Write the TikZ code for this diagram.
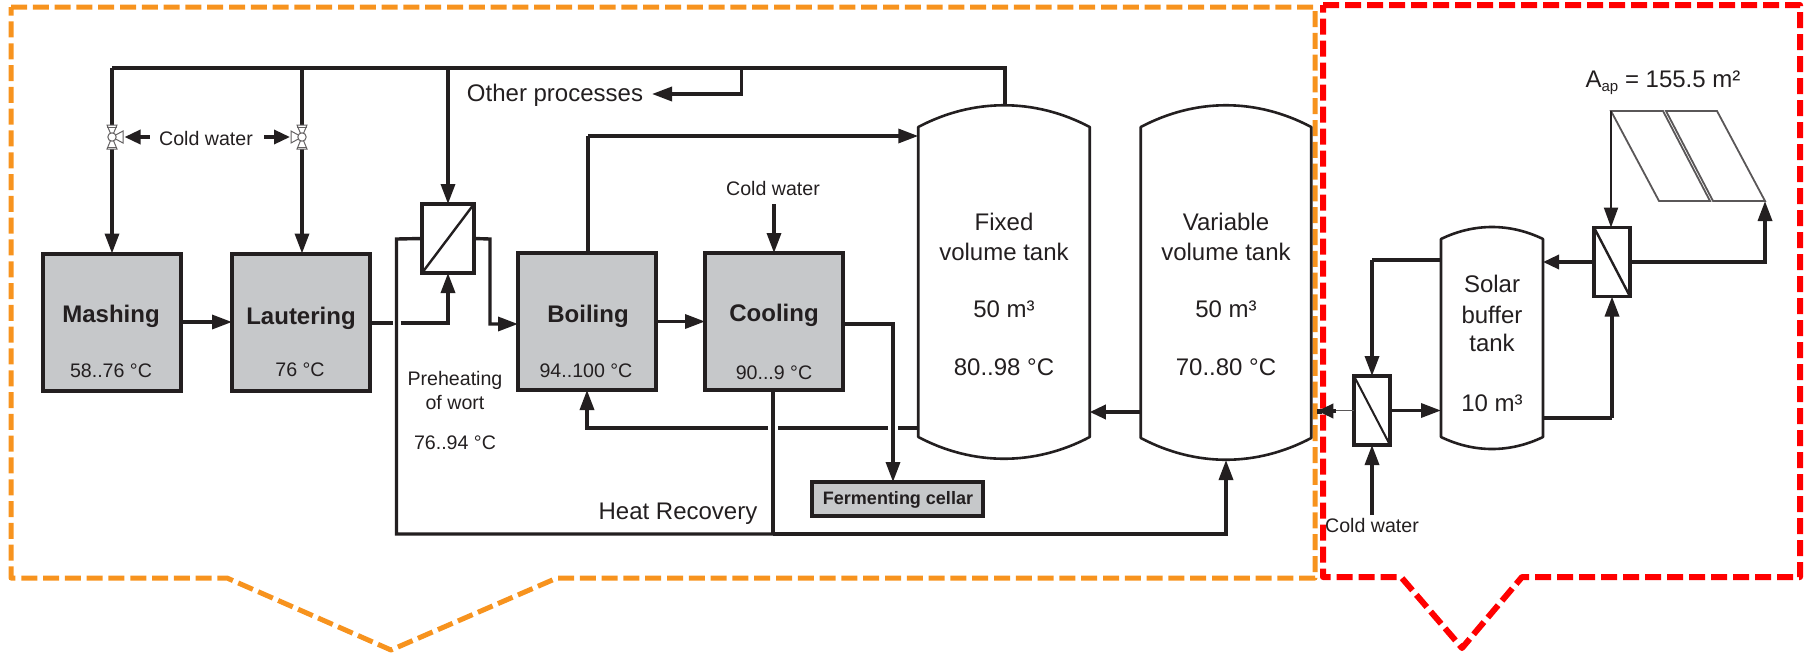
\documentclass[tikz,border=0pt]{standalone}
\usepackage{fontspec}
\setmainfont{Liberation Sans}
\usetikzlibrary{arrows.meta,calc}
\definecolor{ink}{HTML}{231F20}
\definecolor{boxgrey}{HTML}{C6C8CA}
\definecolor{frameorange}{HTML}{F7931E}
\definecolor{framered}{HTML}{FF0000}
\tikzset{
  x=1pt,y=-1pt,
  every node/.style={inner sep=0pt,outer sep=0pt,text=ink},
  txt/.style={font=\fontsize{24}{24}\selectfont},
  small/.style={font=\fontsize{19.6}{20}\selectfont},
  smallb/.style={font=\fontsize{18}{18}\bfseries\selectfont},
  titleb/.style={font=\fontsize{24}{24}\bfseries\selectfont},
  procbox/.style={draw=ink,fill=boxgrey,line width=4pt,minimum width=138pt,minimum height=137pt},
  hxbox/.style={draw=ink,fill=white,line width=3.6pt},
  pipe/.style={draw=ink,line width=3.4pt,line cap=butt,line join=miter},
  tip/.style={-{Triangle[length=20pt,width=14pt]}},
  tiplow/.style={-{Triangle[length=16pt,width=14pt]}},
  tankline/.style={draw=ink,line width=2.6pt,line join=round,fill=white},
  thin line/.style={draw=ink!75,line width=1.8pt},
  valve/.style={draw=ink!70,line width=1pt,fill=white},
  frameO/.style={draw=frameorange,line width=5pt,dash pattern=on 16pt off 5.8pt,line join=round},
  frameR/.style={draw=framered,line width=6pt,dash pattern=on 16pt off 6pt,line join=round},
}
\begin{document}
\begin{tikzpicture}
\useasboundingbox (0,0) rectangle (1804,654);
% dashed frames
\draw[frameO] (11,7) -- (1315,7) -- (1315,578) -- (557,578) -- (391,650) -- (227,578) -- (11,578) -- cycle;
\draw[frameR] (1323,5) -- (1800,5) -- (1800,577) -- (1522,577) -- (1462,648) -- (1401,577) -- (1323,577) -- cycle;

% process boxes
\node[procbox] (mash) at (112,322) {};
\node[procbox] (laut) at (301,322) {};
\node[procbox] (boil) at (587,321.5) {};
\node[procbox] (cool) at (774,321.5) {};
\node[draw=ink,fill=boxgrey,line width=4pt,minimum width=171pt,minimum height=34pt] (ferm) at (897.5,499) {};
% heat exchangers
\node[hxbox,minimum width=52pt,minimum height=69pt] (hxa) at (448,238.5) {};
\node[hxbox,minimum width=36pt,minimum height=69pt] (hxb) at (1612,262) {};
\node[hxbox,minimum width=36pt,minimum height=69pt] (hxc) at (1372,410.5) {};
\draw[ink,line width=2.4pt] (hxa.south west) -- (hxa.north east);
\draw[ink,line width=2.4pt] (hxb.north west) -- (hxb.south east);
\draw[ink,line width=2pt] (hxc.north west) -- (hxc.south east);
% tanks
\node[minimum width=171.5pt,minimum height=310pt] (fixed) at (1004,282) {};
\node[minimum width=170.5pt,minimum height=311pt] (var) at (1226,282.5) {};
\node[minimum width=102pt,minimum height=198pt] (solar) at (1492,338) {};
\draw[tankline] (fixed.south west) -- (fixed.north west)
  .. controls ([xshift=55pt,yshift=29pt]fixed.north west) and ([xshift=-55pt,yshift=29pt]fixed.north east) .. (fixed.north east)
  -- (fixed.south east)
  .. controls ([xshift=-55pt,yshift=-29pt]fixed.south east) and ([xshift=55pt,yshift=-29pt]fixed.south west) .. cycle;
\draw[tankline] (var.south west) -- (var.north west)
  .. controls ([xshift=55pt,yshift=29pt]var.north west) and ([xshift=-55pt,yshift=29pt]var.north east) .. (var.north east)
  -- (var.south east)
  .. controls ([xshift=-55pt,yshift=-29pt]var.south east) and ([xshift=55pt,yshift=-29pt]var.south west) .. cycle;
\draw[tankline] (solar.south west) -- (solar.north west)
  .. controls ([xshift=33pt,yshift=16pt]solar.north west) and ([xshift=-33pt,yshift=16pt]solar.north east) .. (solar.north east)
  -- (solar.south east)
  .. controls ([xshift=-33pt,yshift=-16pt]solar.south east) and ([xshift=33pt,yshift=-16pt]solar.south west) .. cycle;
% collector
\coordinate (cola) at (1611,111);
\coordinate (colb) at (1765,201);
\draw[thin line] (cola) -- (1663,111) -- (1710,201) -- (1659,201) -- cycle;
\draw[thin line] (1666,111) -- (1717,111) -- (colb) -- (1713,201) -- cycle;

% junction and bend coordinates
\coordinate (valveL) at (112,137);
\coordinate (valveR) at (302,137);
\coordinate (topL) at (112,68);
\coordinate (topM) at (302,68);
\coordinate (topH) at (448,68);
\coordinate (topO) at (741.5,68);
\coordinate (topT) at (1005,68);
\coordinate (fixedCrown) at (1005,105);
\coordinate (varCrown) at (1226,460);
\coordinate (retY) at (396.5,534);
\coordinate (coolY) at (773,534);

% text targets
\node[txt,anchor=center] (other) at (555,95) {Other processes};
\node[small] (cwa) at (206,138) {Cold water};
\node[small] (cwb) at (773,188) {Cold water};
\node[small] (cwc) at (1372,525) {Cold water};

% hot water main
\draw[pipe] (topL) -- (topT) -- (fixedCrown);
\draw[pipe] (topL) -- (valveL);
\draw[pipe,tip] (valveL) -- (mash.north);
\draw[pipe] (topM) -- (valveR);
\draw[pipe,tip] (valveR) -- (laut.north -| valveR);
\draw[pipe,tip] (topH) -- (hxa.north);
\draw[pipe,tip] (topO) -- (741.5,94) -- (652,94);
% mash to lauter, boiling, cooling
\draw[pipe,tip] (mash.east) -- (laut.west);
\coordinate (lautA) at (392.5,323);
\coordinate (lautB) at (400.5,323);
\draw[pipe] (laut.east |- lautA) -- (lautA);
\draw[pipe,tip] (lautB) -- (hxa.south |- lautB) -- (hxa.south);
\coordinate (hxaR) at (490,239);
\draw[pipe,tip] (hxa.east) -- (hxaR) -- (490,324) -- (boil.west |- 490,324);
\draw[pipe,tip] (boil.east) -- (cool.west);
% boiling to fixed tank
\draw[pipe] (588,253) -- (588,136);
\draw[pipe,tip] (588,136) -- (fixed.west |- 588,136);
% cold water to cooling
\coordinate (cwbEnd) at (774,204);
\draw[pipe,tip] (cwbEnd) -- (cool.north);
% cooling to fermenting cellar
\draw[pipe,tip] (cool.east |- 843,324) -- (893,324) -- (893,482);
% heat recovery return
\draw[pipe] (hxa.west) -- (396.5,239) -- (retY) -- (coolY);
\draw[pipe,tip] (coolY) -- (1226,534) -- (varCrown);
\draw[pipe] (cool.south -| coolY) -- (coolY);
% fixed tank back to boiling
\draw[pipe] (fixed.west |- 918,428) -- (898,428);
\draw[pipe] (888,428) -- (778,428);
\draw[pipe,tip] (768,428) -- (587,428) -- (boil.south);
% variable to fixed
\draw[pipe,tiplow] (var.west |- 1140,412) -- (fixed.east |- 1140,412);
% solar loop
\draw[thin line] (hxc.west) -- (1332,410.5);
\coordinate (stub) at (1322,411);
\draw[pipe,tiplow,shorten >=6pt] (1336,411) -- (var.east |- 1336,411);
\draw[ink,line width=5pt] (stub) -- (1317,411);
\draw[pipe,tip] (hxc.east) -- (solar.west |- hxc.east);
\coordinate (cwcEnd) at (1372,515);
\draw[pipe,tip] (cwcEnd) -- (hxc.south);
\draw[pipe] (solar.west |- 1441,260) -- (1372,260);
\draw[pipe,tip] (1372,260) -- (hxc.north);
\draw[pipe] (solar.east |- 1543,418) -- (1612,418);
\draw[pipe,tip] (1612,418) -- (hxb.south);
\draw[pipe,tiplow] (hxb.west) -- (solar.east |- hxb.west);
\draw[pipe,tip] (hxb.east) -- (1765,262) -- (colb);
\draw[ink,line width=2.2pt,tip] (cola) -- (cola |- hxb.north);
% cold water feeds at valves
\coordinate (cwal) at (149.5,137);
\coordinate (cwar) at (264,137);
\draw[pipe,tiplow] (cwal) -- (124.5,137);
\draw[pipe,tiplow] (cwar) -- (290,137);
% valve bodies
\foreach \nm/\sgn in {valveL/1,valveR/-1}{
  \begin{scope}[shift={(\nm)},xscale=\sgn]
    \draw[valve] (-5,-12) -- (5,-12) -- (0,0) -- cycle;
    \draw[valve] (-5,12) -- (5,12) -- (0,0) -- cycle;
    \draw[valve] (11,-6) -- (11,6) -- (0,0) -- cycle;
    \draw[valve] (-5,-10) -- (5,-10);
    \draw[valve] (-5,10) -- (5,10);
    \draw[valve] (0,0) circle (4.2);
  \end{scope}
}

% labels
\node[titleb] (tmash) at (111,316) {Mashing};
\node[small] (vmash) at (111,371) {58..76 °C};
\node[titleb] (tlaut) at (301,318) {Lautering};
\node[small] (vlaut) at (300,370) {76 °C};
\node[titleb] (tboil) at (588,316) {Boiling};
\node[small] (vboil) at (586,371) {94..100 °C};
\node[titleb] (tcool) at (774,315) {Cooling};
\node[small] (vcool) at (774,373) {90...9 °C};
\node[smallb] (tferm) at (898,500) {Fermenting cellar};
\node[small] (pa) at (455,380) {Preheating};
\node[small] (pb) at (455,402) {of wort};
\node[small] (pc) at (455,443) {76..94 °C};
\node[txt] (heat) at (678,514) {Heat Recovery};
\node[txt] (fa) at (1004,222) {Fixed};
\node[txt] (fb) at (1004,252) {volume tank};
\node[txt] (fc) at (1004,309) {50 m³};
\node[txt] (fd) at (1004,367) {80..98 °C};
\node[txt] (va) at (1226,222) {Variable};
\node[txt] (vb) at (1226,252) {volume tank};
\node[txt] (vc) at (1226,309) {50 m³};
\node[txt] (vd) at (1226,367) {70..80 °C};
\node[txt] (sa) at (1492,284) {Solar};
\node[txt] (sb) at (1492,315) {buffer};
\node[txt] (sc) at (1492,343) {tank};
\node[txt] (sd) at (1492,403) {10 m³};
\node[txt] (area) at (1663,83) {A\raisebox{-4pt}{\fontsize{15}{15}\selectfont ap} = 155.5 m²};
\end{tikzpicture}
\end{document}
